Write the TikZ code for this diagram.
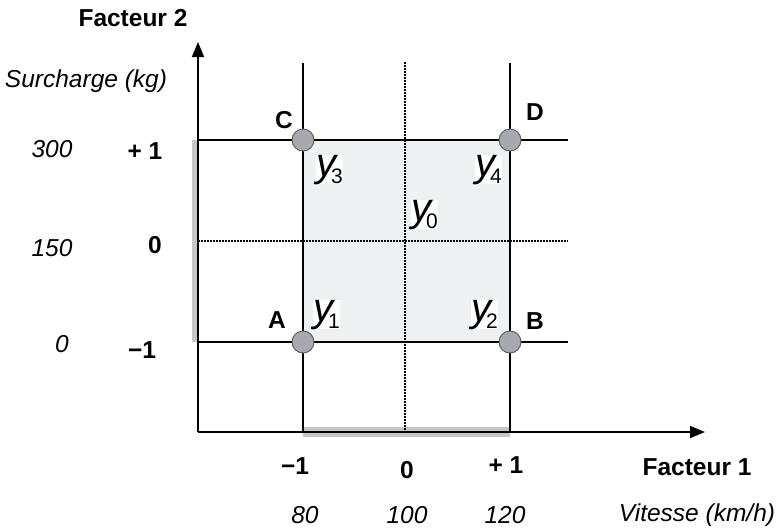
\documentclass[tikz,border=0pt]{standalone}
\usepackage{fontspec}
\setmainfont{Liberation Sans}
\usetikzlibrary{arrows.meta}
\definecolor{pointgray}{HTML}{A8A9AC}
\definecolor{zonegray}{HTML}{EFF0F2}
\definecolor{bargray}{HTML}{C6C6C6}
\newcommand{\rep}[1]{y\kern-5pt\raisebox{-7pt}{\fontsize{21}{24}\selectfont\upshape #1}}

\begin{document}
\begin{tikzpicture}[
  x=1pt,y=-1pt,
  axe/.style={line width=1.6pt,-{Triangle[length=15pt,width=12pt]}},
  trait/.style={line width=1.6pt},
  pointille/.style={line width=1.6pt,dash pattern=on 1.6pt off 1.4pt},
  sommet/.style={circle,draw=black!65,fill=pointgray,minimum size=22pt,inner sep=0pt,line width=0.9pt},
  gras/.style={font=\fontsize{24.5}{28}\selectfont\bfseries},
  ital/.style={font=\fontsize{24.5}{28}\selectfont\itshape},
  reponse/.style={fill=white,inner sep=0pt,anchor=base west,font=\fontsize{40}{44}\selectfont\itshape}
]
\useasboundingbox (0,0) rectangle (782,528);

% points of the grid
\coordinate (O) at (198,432);
\coordinate (Ytop) at (198,42);
\coordinate (Xend) at (705,432);
\coordinate (Dtop) at (405,62);
\coordinate (Dbot) at (405,432);
\coordinate (Hleft) at (198,241);
\coordinate (Hright) at (568,241);

% domaine d'etude
\fill[zonegray] (303,140) rectangle (510,342);
\fill[bargray] (192,140) rectangle (199,342);
\fill[bargray] (303,427) rectangle (510,437);

% niveaux
\draw[trait] (303,63) -- (303,432);
\draw[trait] (510,63) -- (510,432);
\draw[trait] (198,140) -- (568,140);
\draw[trait] (198,342) -- (568,342);
\draw[pointille] (Dtop) -- (Dbot);
\draw[pointille] (Hleft) -- (Hright);

% axes
\draw[axe] (O) -- (Ytop);
\draw[axe] (O) -- (Xend);

% essais
\node[sommet] (A) at (303,342) {};
\node[sommet] (B) at (510,342) {};
\node[sommet] (C) at (303,140) {};
\node[sommet] (D) at (510,140) {};

\node[gras] (lA) at (277,320) {A};
\node[gras] (lB) at (535,321) {B};
\node[gras] (lC) at (284,120) {C};
\node[gras] (lD) at (535,112) {D};

\node[reponse] (y3) at (316,176) {\rep{3}};
\node[reponse] (y4) at (475,176) {\rep{4}};
\node[reponse] (y0) at (411,221) {\rep{0}};
\node[reponse] (y1) at (313,321) {\rep{1}};
\node[reponse] (y2) at (471,321) {\rep{2}};

% facteur 2
\node[gras] (f2) at (133,18) {Facteur 2};
\node[ital,anchor=base] (n2) at (86,87) {Surcharge (kg)};
\node[ital] (v300) at (52,149) {300};
\node[ital] (v150) at (52,248) {150};
\node[ital] (v0) at (62,344) {0};
\node[gras] (p1) at (145,151) {+ 1};
\node[gras] (z2) at (155,245) {0};
\node[gras] (m1) at (142,350) {\char"2212 1};

% facteur 1
\node[gras] (m1x) at (295,466) {\char"2212 1};
\node[gras] (z1) at (407,470) {0};
\node[gras] (p1x) at (506,465) {+ 1};
\node[gras] (f1) at (697,467) {Facteur 1};
\node[ital,anchor=base,inner sep=0pt] (v80) at (305,523) {80};
\node[ital,anchor=base,inner sep=0pt] (v100) at (407,523) {100};
\node[ital,anchor=base,inner sep=0pt] (v120) at (505,523) {120};
\node[ital,anchor=base] (n1) at (697,521) {Vitesse (km/h)};
\end{tikzpicture}
\end{document}
